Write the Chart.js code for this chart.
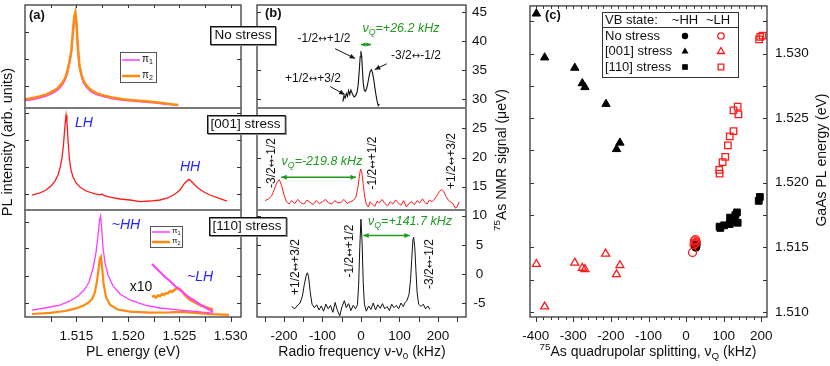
<!DOCTYPE html>
<html>
<head>
<meta charset="utf-8">
<script src="https://cdn.jsdelivr.net/npm/chart.js@4.4.1/dist/chart.umd.min.js"></script>
<style>
  html, body { margin: 0; padding: 0; background: #fff; }
  #wrap { position: relative; width: 830px; height: 366px; overflow: hidden; }
  #wrap canvas { position: absolute; left: 0; top: 0; }
</style>
</head>
<body>
<div id="wrap">
  <canvas id="a1" width="830" height="366"></canvas>
  <canvas id="a2" width="830" height="366"></canvas>
  <canvas id="a3" width="830" height="366"></canvas>
  <canvas id="b" width="830" height="366"></canvas>
  <canvas id="c" width="830" height="366"></canvas>
</div>
<script>
const FONT = '"Liberation Sans", Arial, Helvetica, sans-serif';

// (a) PL spectra  [energy (eV), intensity (arb. units)]
const plFreePi1 = [[1.5100,7.2],[1.5105,7.8],[1.5110,8.8],[1.5115,10.0],[1.5120,11.4],[1.5124,13.0],[1.5128,15.0],[1.5132,17.6],[1.5136,22],[1.5139,27],[1.5141,33],[1.5143,42],[1.5145,53],[1.5147,76],[1.5148,86],[1.5149,89],[1.5150,80],[1.5151,62],[1.5152,49],[1.5153,39],[1.5155,30],[1.5157,24],[1.5160,19.8],[1.5164,16],[1.5170,12.8],[1.5177,10.8],[1.5185,9.0],[1.5195,7.6],[1.5205,6.7],[1.5215,5.9],[1.5225,5.0],[1.5235,4.0],[1.5243,3.2],[1.5249,2.6]];
const plFreePi2 = [[1.5100,8.6],[1.5105,9.2],[1.5110,10.3],[1.5115,11.5],[1.5120,13.0],[1.5124,14.6],[1.5128,16.8],[1.5132,19.5],[1.5136,24],[1.5139,29],[1.5141,35],[1.5143,44],[1.5145,55],[1.5147,79],[1.5148,89],[1.5149,93],[1.5150,84],[1.5151,66],[1.5152,52],[1.5153,41],[1.5155,32],[1.5157,26],[1.5160,21.5],[1.5164,17.5],[1.5170,14.2],[1.5177,12],[1.5185,10.2],[1.5195,8.6],[1.5205,7.6],[1.5215,6.8],[1.5225,5.8],[1.5235,4.6],[1.5243,3.6],[1.5249,3.0]];
const pl001 = [[1.51068,14.7],[1.51146,16.7],[1.51204,19.6],[1.51253,23.5],[1.51292,28.4],[1.51321,34.3],[1.51340,41],[1.51360,51],[1.51374,63.7],[1.51389,83],[1.51399,93],[1.51408,86],[1.51418,68.6],[1.51433,49],[1.51447,39],[1.51467,32.4],[1.51496,26.5],[1.51535,22.5],[1.51593,18.6],[1.51681,15.7],[1.51730,14.9],[1.51749,15.6],[1.51770,14.0],[1.51826,12.7],[1.51924,10.8],[1.52021,9.8],[1.52118,8.3],[1.52215,8.8],[1.52313,9.8],[1.52390,11.8],[1.52458,15.7],[1.52507,19.6],[1.52546,25.5],[1.52575,28.4],[1.52585,29.2],[1.52594,30.0],[1.52604,29.4],[1.52614,28.4],[1.52643,25.5],[1.52682,21.6],[1.52740,17.6],[1.52799,14.7],[1.52876,11.8],[1.52964,8.8]];
const pl110Pi1 = [[1.51068,6.5],[1.51194,8.4],[1.51340,11.2],[1.51437,15],[1.51515,19.6],[1.51574,25.2],[1.51623,32.7],[1.51662,45.8],[1.51691,60.7],[1.51710,76.6],[1.51725,90.7],[1.51735,94.4],[1.51744,85],[1.51759,64.5],[1.51778,50.5],[1.51807,39.3],[1.51856,29],[1.51924,21.5],[1.52021,15.9],[1.52167,11.2],[1.52313,8.4],[1.52507,6.5],[1.52701,4.7],[1.52828,3.7]];
const pl110Pi2 = [[1.51068,2.8],[1.51243,3.9],[1.51389,5.6],[1.51496,8.0],[1.51574,11.0],[1.51623,13.8],[1.51652,16.8],[1.51676,22],[1.51696,31],[1.51715,45],[1.51729,55],[1.51739,56.5],[1.51749,47],[1.51764,31],[1.51788,18.5],[1.51826,11.5],[1.51900,7.0],[1.52021,5.0],[1.52215,4.0],[1.52410,4.3],[1.52526,4.8],[1.52653,3.8],[1.52799,2.6],[1.52983,1.9]];
const pl110Pi1x10 = [[1.52235,49.5],[1.52274,45.8],[1.52313,42],[1.52361,37.4],[1.52410,33.6],[1.52458,29],[1.52507,25.2],[1.52556,21.5],[1.52604,17.8],[1.52653,15],[1.52701,11.7],[1.52750,8.9],[1.52799,6.5],[1.52828,4.7]];
const pl110Pi2x10 = [[1.52235,18.7],[1.52254,19.6],[1.52274,18.2],[1.52293,20.1],[1.52313,19.6],[1.52332,21.5],[1.52351,20.6],[1.52371,22.4],[1.52390,22],[1.52410,24.3],[1.52429,23.4],[1.52449,25.2],[1.52468,26.2],[1.52487,27.1],[1.52507,25.7],[1.52526,24.3],[1.52546,21.5],[1.52565,19.6],[1.52594,16.8],[1.52624,15],[1.52662,13.1],[1.52701,11.2],[1.52740,9.8],[1.52779,8.4],[1.52828,7]];
const plEnergyLabels = [1.515, 1.520, 1.525, 1.530];
const plEnergyTicks = [1.5125, 1.515, 1.5175, 1.520, 1.5225, 1.525, 1.5275, 1.530];
const plTicksTop = [21.4, 47.6, 73.8];
const plTicksMid = [15.7, 42.2, 68.6, 95];
const plTicksBot = [13.1, 38.3, 64.5, 88.8];

// (b) NMR spectra  [nu - nu0 (kHz), signal (ueV)], traces offset vertically
const nmrFree = [[-47,29.6],[-44,30.6],[-41,30.2],[-38,31.0],[-35,30.5],[-32,31.5],[-29,30.8],[-26,31.6],[-22,30.9],[-18,30.4],[-14,30.6],[-10,31.2],[-7,32.6],[-4,35.2],[-2,37.3],[0,38.3],[2,37.4],[4,35.0],[6,32.8],[9,31.5],[12,31.4],[15,31.9],[18,32.8],[21,33.9],[24,34.8],[27,35.1],[30,34.6],[33,33.5],[36,32.1],[39,30.8],[42,29.7],[45,28.9],[48,29.2]];
const nmr001 = [[-249,12.6],[-240,12.9],[-232,13.4],[-225,14.5],[-219,15.6],[-212,16.2],[-206,15.2],[-200,13.6],[-194,12.5],[-187,12.0],[-180,12.6],[-172,12.1],[-164,12.8],[-156,12.2],[-148,12.0],[-140,12.7],[-132,12.3],[-124,11.9],[-116,12.6],[-108,12.1],[-100,12.4],[-92,12.8],[-84,12.2],[-76,12.0],[-68,12.6],[-60,12.2],[-52,12.3],[-44,12.8],[-36,12.1],[-28,12.4],[-20,12.6],[-13,13.2],[-8,14.8],[-4,16.8],[-1,18.0],[2,17.6],[6,15.4],[10,13.2],[14,12.0],[19,11.5],[24,12.4],[30,12.0],[36,11.6],[42,12.5],[48,12.2],[55,12.8],[62,12.1],[69,11.7],[76,12.4],[83,12.0],[90,12.7],[97,12.2],[104,11.8],[111,12.6],[118,11.5],[125,12.1],[132,12.4],[139,11.9],[146,12.6],[153,12.2],[160,12.9],[166,12.3],[172,12.0],[178,12.7],[185,12.4],[192,12.9],[198,13.5],[204,14.2],[210,14.5],[215,14.2],[221,13.3],[228,12.6],[234,12.3],[240,12.0],[245,11.3],[250,11.5],[255,12.4]];
const nmr110 = [[-180,-5.6],[-172,-6.0],[-165,-5.4],[-158,-5.0],[-152,-3.8],[-147,-1.8],[-142,-0.2],[-139,0.2],[-136,-0.5],[-132,-3.0],[-127,-5.2],[-121,-5.8],[-115,-5.3],[-109,-6.2],[-103,-5.5],[-97,-6.4],[-91,-5.2],[-85,-6.0],[-79,-5.4],[-73,-6.6],[-67,-4.9],[-61,-6.3],[-55,-7.2],[-49,-5.6],[-43,-4.6],[-38,-5.8],[-32,-5.1],[-26,-6.3],[-20,-5.4],[-14,-6.0],[-9,-5.3],[-6,-2.0],[-3,4.5],[0,9.4],[3,5.5],[6,-1.5],[9,-5.2],[14,-6.4],[20,-5.5],[26,-6.1],[32,-5.0],[38,-6.2],[44,-5.3],[50,-5.9],[56,-5.1],[62,-6.0],[68,-5.6],[74,-6.3],[80,-5.2],[86,-5.8],[92,-5.4],[98,-6.0],[104,-5.0],[110,-5.6],[115,-4.9],[120,-4.5],[125,-3.5],[129,-1.0],[132,2.5],[135,5.8],[137,6.3],[140,4.5],[143,0.5],[146,-3.2],[150,-5.2],[156,-5.6],[162,-5.2],[168,-6.0],[174,-5.5],[179,-6.1]];
const rfLabels = [-200, -100, 0, 100, 200];
const rfTicks = [-250, -200, -150, -100, -50, 0, 50, 100, 150, 200, 250];
const nmrLabels = [-5, 0, 5, 10, 15, 20, 25, 30, 35, 40, 45];

// (c) [nuQ (kHz), GaAs PL energy (eV)]
const hhFree = [[24,1.5151],[27,1.5152],[26,1.5150]];
const lhFree = [[17,1.5146],[22,1.5155],[25,1.5156],[27,1.5154],[24,1.5153],[21,1.5152]];
const hh001 = [[-398,1.5331],[-376,1.5297],[-296,1.5289],[-276,1.5277],[-269,1.5274],[-213,1.5261],[-176,1.5231],[-185,1.5226]];
const lh001 = [[-398,1.5137],[-376,1.5104],[-296,1.5138],[-276,1.5134],[-269,1.5133],[-214,1.5145],[-185,1.5129],[-176,1.5136]];
const hh110 = [[89,1.5166],[91,1.5165],[101,1.5167],[116,1.5168],[117,1.5173],[126,1.5170],[131,1.5175],[135,1.5177],[137,1.5169],[193,1.5186],[196,1.5189]];
const lh110 = [[88,1.5210],[89,1.5207],[97,1.5216],[104,1.5220],[111,1.5229],[116,1.5236],[126,1.5240],[126,1.5256],[137,1.5259],[139,1.5253],[194,1.5311],[197,1.5313],[203,1.5314]];
const splitLabels = [-400, -300, -200, -100, 0, 100, 200];
const energyLabels = [1.510, 1.515, 1.520, 1.525, 1.530];
const energyTicks = [1.510, 1.5125, 1.515, 1.5175, 1.520, 1.5225, 1.525, 1.5275, 1.530, 1.5325];

const MAGENTA = '#ff3cff', ORANGE = '#ff8a12', RED = '#ff1a1a', BLUE = '#2323ff', GREEN = '#1f9a1f';

const pts = arr => arr.map(([x, y]) => ({ x, y }));

// rich text: parts = [[text, kind]], kind '' | 'sub' | 'sup' | 'sym' (arrow glyph)
function txt(ctx, parts, x, y, o) {
  o = o || {};
  const size = o.size || 14;
  const style = (o.italic ? 'italic ' : '') + (o.bold ? 'bold ' : '');
  if (typeof parts === 'string') parts = [[parts, '']];
  const fnt = k => k === 'sym' ? (size * 0.85) + 'px "DejaVu Sans", sans-serif'
                               : style + (k ? size * 0.7 : size) + 'px ' + FONT;
  ctx.save();
  ctx.translate(x, y);
  if (o.rot) ctx.rotate(o.rot);
  let w = 0;
  parts.forEach(([s, k]) => { ctx.font = fnt(k); w += ctx.measureText(s).width; });
  let cx = o.align === 'left' ? 0 : o.align === 'right' ? -w : -w / 2;
  ctx.fillStyle = o.color || '#111';
  ctx.textBaseline = 'middle';
  ctx.textAlign = 'left';
  parts.forEach(([s, k]) => {
    ctx.font = fnt(k);
    const dy = k === 'sub' ? size * 0.3 : k === 'sup' ? -size * 0.35 : 0;
    ctx.fillText(s, cx, dy);
    cx += ctx.measureText(s).width;
  });
  ctx.restore();
}

// transition label like "-1/2<->+1/2"
const tr = (a, b) => [[a, ''], ['↔', 'sym'], [b, '']];

function arrow(ctx, x1, y1, x2, y2, color, both, head, lw) {
  head = head || 6;
  ctx.save();
  ctx.strokeStyle = color; ctx.fillStyle = color; ctx.lineWidth = lw || 1.2;
  ctx.beginPath(); ctx.moveTo(x1, y1); ctx.lineTo(x2, y2); ctx.stroke();
  const tip = (xa, ya, xb, yb) => {
    const ang = Math.atan2(yb - ya, xb - xa);
    ctx.beginPath();
    ctx.moveTo(xb, yb);
    ctx.lineTo(xb - head * Math.cos(ang - 0.42), yb - head * Math.sin(ang - 0.42));
    ctx.lineTo(xb - head * Math.cos(ang + 0.42), yb - head * Math.sin(ang + 0.42));
    ctx.closePath(); ctx.fill();
  };
  tip(x1, y1, x2, y2);
  if (both) tip(x2, y2, x1, y1);
  ctx.restore();
}

function marker(ctx, kind, x, y, r, color, filled) {
  ctx.save();
  ctx.beginPath();
  if (kind === 'circle') ctx.arc(x, y, r, 0, 2 * Math.PI);
  else if (kind === 'triangle') {
    ctx.moveTo(x, y - r); ctx.lineTo(x + r * 0.866, y + r * 0.5); ctx.lineTo(x - r * 0.866, y + r * 0.5); ctx.closePath();
  } else { const s = r * 0.707; ctx.rect(x - s, y - s, 2 * s, 2 * s); }
  if (filled) { ctx.fillStyle = color; ctx.fill(); }
  else { ctx.strokeStyle = color; ctx.lineWidth = 1.3; ctx.stroke(); }
  ctx.restore();
}

function labelBox(ctx, text, cx, cy) {
  ctx.save();
  ctx.font = '13.5px ' + FONT;
  const w = ctx.measureText(text).width + 8, h = 18;
  const x = Math.round(cx - w / 2) + 0.5, y = Math.round(cy - h / 2) + 0.5;
  ctx.fillStyle = '#fff'; ctx.fillRect(x, y, w, h);
  ctx.strokeStyle = '#888'; ctx.lineWidth = 1; ctx.strokeRect(x + 1, y + 1, w, h);
  ctx.strokeStyle = '#111'; ctx.strokeRect(x, y, w, h);
  ctx.restore();
  txt(ctx, text, cx, cy + 0.5, { size: 13.5 });
}

// axis boxes: x labels live in a 30px band under the plot, right y labels in a band beside it
const X_BAND = 30;
function pad(b, xBand, yBand) {
  return { left: b.l, top: b.t, right: 830 - b.r - (yBand || 0), bottom: 366 - b.b - (xBand || 0) };
}

function axis(min, max, o) {
  o = o || {};
  const band = o.band || 0;
  const ax = {
    type: 'linear', min, max, bounds: 'data', display: !!o.labels, position: o.position,
    grid: { display: false, drawTicks: false }, border: { display: false },
    ticks: { padding: o.pad || 0, color: '#111', font: { family: FONT, size: 13.5 }, maxRotation: 0, autoSkip: false,
             crossAlign: o.crossAlign || 'near', callback: o.fmt || (v => String(v)) },
    afterFit: s => {
      if (s.isHorizontal()) s.height = band; else s.width = band;
      s.paddingTop = s.paddingBottom = s.paddingLeft = s.paddingRight = 0;
    }
  };
  if (o.labels) ax.afterBuildTicks = s => { s.ticks = o.labels.map(v => ({ value: v })); };
  return ax;
}

function frame(o, draw) {
  return {
    id: 'frame',
    afterDatasetsDraw(chart) {
      const { ctx, chartArea: a } = chart;
      const sx = chart.scales.x, sy = chart.scales.y;
      const px = v => Math.round(sx.getPixelForValue(v)) + 0.5;
      const py = v => Math.round(sy.getPixelForValue(v)) + 0.5;
      ctx.save();
      ctx.strokeStyle = '#333'; ctx.lineWidth = 1;
      ctx.beginPath();
      (o.xMajor || []).forEach(v => { const p = px(v); ctx.moveTo(p, a.bottom); ctx.lineTo(p, a.bottom + 5); });
      (o.xMinor || []).forEach(v => { const p = px(v); ctx.moveTo(p, a.bottom); ctx.lineTo(p, a.bottom + 3); });
      (o.xTop || []).forEach(v => { const p = px(v); ctx.moveTo(p, a.top); ctx.lineTo(p, a.top + 3); });
      (o.yTicks || []).forEach(v => { const p = py(v); ctx.moveTo(a.left, p); ctx.lineTo(a.left + 4, p); ctx.moveTo(a.right, p); ctx.lineTo(a.right - 4, p); });
      ctx.stroke();
      ctx.lineWidth = 1.3; ctx.strokeStyle = '#3a3a3a';
      ctx.strokeRect(a.left, a.top, a.right - a.left, a.bottom - a.top);
      ctx.restore();
      if (draw) draw(chart, ctx);
    }
  };
}

function line(data, color, width) {
  return { data: pts(data), showLine: true, borderColor: color, borderWidth: width, pointRadius: 0, fill: false, tension: 0 };
}

function scatter(data, kind, color, filled, r) {
  return { data: pts(data), pointStyle: kind, pointRadius: r, pointHoverRadius: r, borderColor: color,
           backgroundColor: filled ? color : 'rgba(0,0,0,0)', pointBorderWidth: filled ? 1 : 1.3, showLine: false };
}

function make(id, padding, datasets, scales, plugin) {
  return new Chart(document.getElementById(id), {
    type: 'scatter',
    data: { datasets },
    options: {
      responsive: false, animation: false, devicePixelRatio: 1, events: [],
      layout: { padding },
      plugins: { legend: { display: false }, tooltip: { enabled: false } },
      scales
    },
    plugins: [plugin]
  });
}

function piLegend(ctx, x0, y0, w, h, y1, y2, fs) {
  ctx.save();
  ctx.fillStyle = '#fff'; ctx.fillRect(x0, y0, w, h);
  ctx.strokeStyle = '#555'; ctx.lineWidth = 1;
  ctx.strokeRect(x0 + 0.5, y0 + 0.5, w, h);
  ctx.lineWidth = 1.5; ctx.strokeStyle = MAGENTA;
  ctx.beginPath(); ctx.moveTo(x0 + 2, y1); ctx.lineTo(x0 + 20, y1); ctx.stroke();
  ctx.lineWidth = 2.5; ctx.strokeStyle = ORANGE;
  ctx.beginPath(); ctx.moveTo(x0 + 2, y2); ctx.lineTo(x0 + 20, y2); ctx.stroke();
  ctx.restore();
  txt(ctx, [['π', ''], ['1', 'sub']], x0 + 22, y1 - 1, { size: fs, align: 'left' });
  txt(ctx, [['π', ''], ['2', 'sub']], x0 + 22, y2 - 1, { size: fs, align: 'left' });
}

// ---------- panel (a) ----------
make('a1', pad({ l: 25, t: 5, r: 241, b: 108 }),
  [line(plFreePi2, ORANGE, 2.5), line(plFreePi1, MAGENTA, 1.5)],
  { x: axis(1.510, 1.531), y: axis(0, 100) },
  frame({ yTicks: plTicksTop, xTop: plEnergyTicks }, (chart, ctx) => {
    txt(ctx, '(a)', 29, 15, { bold: true, size: 13, align: 'left' });
    piLegend(ctx, 120, 52, 36, 30, 60, 76, 10);
  }));

make('a2', pad({ l: 25, t: 108, r: 241, b: 210 }),
  [line(pl001, RED, 1.3)],
  { x: axis(1.510, 1.531), y: axis(0, 100) },
  frame({ yTicks: plTicksMid }, (chart, ctx) => {
    txt(ctx, 'LH', 84, 123, { italic: true, color: BLUE, size: 14 });
    txt(ctx, 'HH', 190, 167, { italic: true, color: BLUE, size: 14 });
  }));

make('a3', pad({ l: 25, t: 210, r: 241, b: 317 }, X_BAND),
  [line(pl110Pi1x10, MAGENTA, 2), line(pl110Pi2x10, ORANGE, 2.5), line(pl110Pi1, MAGENTA, 1.3), line(pl110Pi2, ORANGE, 2.2)],
  { x: axis(1.510, 1.531, { labels: plEnergyLabels, pad: 11, band: X_BAND, fmt: v => v.toFixed(3) }), y: axis(0, 100) },
  frame({ yTicks: plTicksBot, xMajor: plEnergyTicks }, (chart, ctx) => {
    txt(ctx, '~HH', 126, 225, { italic: true, color: BLUE, size: 14 });
    txt(ctx, '~LH', 200, 277, { italic: true, color: BLUE, size: 14 });
    txt(ctx, 'x10', 141, 287, { size: 14 });
    piLegend(ctx, 150, 226, 32, 21, 232, 242, 8);
    txt(ctx, 'PL energy (eV)', 133, 352, { size: 14 });
    txt(ctx, 'PL intensity (arb. units)', 8, 142, { size: 14.5, rot: -Math.PI / 2 });
  }));

// ---------- panel (b) ----------
make('b', pad({ l: 257, t: 5, r: 466, b: 317 }, X_BAND, 30),
  [line(nmrFree, '#111', 1.1), line(nmr001, RED, 1), line(nmr110, '#111', 1)],
  { x: axis(-270, 273, { labels: rfLabels, pad: 11, band: X_BAND }),
    y: axis(-7.4, 46.2, { labels: nmrLabels, position: 'right', pad: 6, band: 30, crossAlign: 'center' }) },
  frame({ yTicks: nmrLabels, xMajor: rfTicks }, (chart, ctx) => {
    const X = v => chart.scales.x.getPixelForValue(v), Y = v => chart.scales.y.getPixelForValue(v);
    // separators between the stress states, across (a) and (b)
    ctx.save();
    ctx.strokeStyle = '#7a7a7a'; ctx.lineWidth = 2;
    ctx.beginPath();
    [108, 210].forEach(y => { ctx.moveTo(25, y); ctx.lineTo(241, y); ctx.moveTo(257, y); ctx.lineTo(466, y); });
    ctx.stroke();
    ctx.restore();

    txt(ctx, '(b)', 265, 13, { bold: true, size: 13, align: 'left' });
    // no stress
    txt(ctx, [['ν', ''], ['Q', 'sub'], ['=+26.2 kHz', '']], 401, 29, { italic: true, color: GREEN, size: 12.5 });
    arrow(ctx, X(0), Y(39.4), X(26.2), Y(39.4), GREEN, true, 5, 1.6);
    txt(ctx, tr('-1/2', '+1/2'), 324, 39, { size: 12 });
    arrow(ctx, X(-67), Y(38.7), X(-15), Y(37.0), '#111', false, 6, 1);
    txt(ctx, tr('-3/2', '-1/2'), 416, 56, { size: 12 });
    arrow(ctx, X(67), Y(36.1), X(36), Y(35.1), '#111', false, 6, 1);
    txt(ctx, tr('+1/2', '+3/2'), 313, 79, { size: 12 });
    arrow(ctx, X(-80), Y(32.2), X(-42), Y(30.8), '#111', false, 6, 1);
    // [001]
    txt(ctx, [['ν', ''], ['Q', 'sub'], ['=-219.8 kHz', '']], 322, 162, { italic: true, color: GREEN, size: 12.5 });
    arrow(ctx, X(-207), Y(16.6), X(-13), Y(16.6), GREEN, true, 6, 1.6);
    txt(ctx, tr('-3/2', '-1/2'), 272, 163, { size: 12, rot: -Math.PI / 2 });
    txt(ctx, tr('-1/2', '+1/2'), 373, 163, { size: 12, rot: -Math.PI / 2 });
    txt(ctx, tr('+1/2', '+3/2'), 452, 161, { size: 12, rot: -Math.PI / 2 });
    // [110]
    txt(ctx, [['ν', ''], ['Q', 'sub'], ['=+141.7 kHz', '']], 410, 222, { italic: true, color: GREEN, size: 12.5 });
    arrow(ctx, X(6), Y(6.6), X(127), Y(6.6), GREEN, true, 6, 1.6);
    txt(ctx, tr('+1/2', '+3/2'), 296, 267, { size: 12, rot: -Math.PI / 2 });
    txt(ctx, tr('-1/2', '+1/2'), 350, 251, { size: 12, rot: -Math.PI / 2 });
    txt(ctx, tr('-3/2', '-1/2'), 430, 264, { size: 12, rot: -Math.PI / 2 });

    labelBox(ctx, 'No stress', 243, 35);
    labelBox(ctx, '[001] stress', 245.5, 123.5);
    labelBox(ctx, '[110] stress', 247, 225.5);

    txt(ctx, [['Radio frequency ν-ν', ''], ['0', 'sub'], [' (kHz)', '']], 362, 352, { size: 14 });
    txt(ctx, [['75', 'sup'], ['As NMR signal (μeV)', '']], 502, 160, { size: 14, rot: -Math.PI / 2 });
  }));

// ---------- panel (c) ----------
const splitMinor = [], splitTop = [];
for (let v = -400; v <= 200; v += 20) { splitTop.push(v); if (v % 100) splitMinor.push(v); }

make('c', pad({ l: 530, t: 5, r: 767, b: 317 }, X_BAND, 48),
  [scatter(lhFree, 'circle', RED, false, 4), scatter(lh001, 'triangle', RED, false, 4.6), scatter(lh110, 'rect', RED, false, 4.6),
   scatter(hhFree, 'circle', '#000', true, 4), scatter(hh001, 'triangle', '#000', true, 4.8), scatter(hh110, 'rect', '#000', true, 4.8)],
  { x: axis(-415, 215, { labels: splitLabels, pad: 11, band: X_BAND }),
    y: axis(1.5096, 1.5337, { labels: energyLabels, position: 'right', pad: 8, band: 48, fmt: v => v.toFixed(3) }) },
  frame({ yTicks: energyTicks, xMajor: splitLabels, xMinor: splitMinor, xTop: splitTop }, (chart, ctx) => {
    txt(ctx, '(c)', 545, 15, { bold: true, size: 13, align: 'left' });
    ctx.save();
    ctx.fillStyle = '#fff'; ctx.fillRect(602, 12, 136, 65);
    ctx.strokeStyle = '#333'; ctx.lineWidth = 1;
    ctx.strokeRect(602.5, 12.5, 136, 65);
    ctx.beginPath(); ctx.moveTo(602.5, 27.5); ctx.lineTo(738.5, 27.5); ctx.stroke();
    ctx.restore();
    txt(ctx, 'VB state:', 605, 20, { size: 13, align: 'left' });
    txt(ctx, '~HH', 685, 20, { size: 13 });
    txt(ctx, '~LH', 718, 20, { size: 13 });
    const rows = [['No stress', 'circle', 36], ['[001] stress', 'triangle', 51.5], ['[110] stress', 'rect', 67]];
    rows.forEach(([t, k, y]) => {
      txt(ctx, t, 605, y, { size: 13, align: 'left' });
      marker(ctx, k, 685, y, k === 'circle' ? 3.2 : 4, '#000', true);
      marker(ctx, k, 721, y, k === 'circle' ? 3.2 : 4, RED, false);
    });
    txt(ctx, [['75', 'sup'], ['As quadrupolar splitting, ν', ''], ['Q', 'sub'], [' (kHz)', '']], 648, 352, { size: 14 });
    txt(ctx, 'GaAs PL energy (eV)', 822, 160, { size: 14, rot: -Math.PI / 2 });
  }));
</script>
</body>
</html>
